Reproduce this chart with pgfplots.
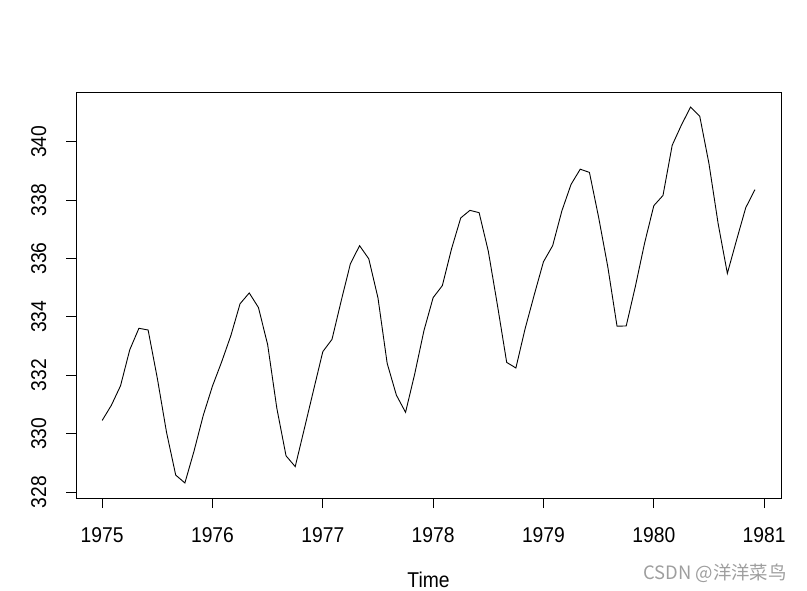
\documentclass[border=0pt]{standalone}
\usepackage{pgfplots}
\pgfplotsset{compat=1.18}
\usepackage{fontspec}
\setmainfont{Liberation Sans}[FakeStretch=0.9]
\newfontfamily\cjk{Noto Sans CJK SC}
\begin{document}
\begin{tikzpicture}[x=1bp,y=1bp]
\useasboundingbox (-76,-93) rectangle (731,498);
\begin{axis}[
  scale only axis, width=705bp, height=406bp,
  at={(0,0)}, anchor=south west,
  xmin=1974.763, xmax=1981.153, ymin=327.795, ymax=341.705,
  axis line style={black, line width=0.9bp},
  tick align=outside, major tick length=10bp,
  tick style={black, line width=0.9bp},
  xtick={1975,1976,1977,1978,1979,1980,1981},
  ytick={328,330,332,334,336,338,340},
  xtick pos=bottom, ytick pos=left,
  xticklabel style={font=\fontsize{21.5}{24}\selectfont, anchor=base},
  yticklabel style={font=\fontsize{21.5}{24}\selectfont, rotate=90, anchor=base},
  xticklabel shift=34bp,
  yticklabel shift=20bp,
  /pgf/number format/assume math mode=true,
  /pgf/number format/1000 sep={},
  xticklabel={\pgfmathprintnumber[fixed,precision=0,1000 sep={}]{\tick}},
  xlabel={Time},
  xlabel style={font=\fontsize{21.5}{24}\selectfont, at={(axis description cs:0.5,0)}, anchor=base, yshift=-89bp},
]
\addplot[black, line width=0.9bp] table[x=t,y=v] {
t v
1975.0000 330.45
1975.0833 330.97
1975.1667 331.64
1975.2500 332.87
1975.3333 333.61
1975.4167 333.55
1975.5000 331.90
1975.5833 330.05
1975.6667 328.58
1975.7500 328.31
1975.8333 329.41
1975.9167 330.63
1976.0000 331.63
1976.0833 332.46
1976.1667 333.36
1976.2500 334.45
1976.3333 334.82
1976.4167 334.32
1976.5000 333.05
1976.5833 330.87
1976.6667 329.24
1976.7500 328.87
1976.8333 330.18
1976.9167 331.50
1977.0000 332.81
1977.0833 333.23
1977.1667 334.55
1977.2500 335.82
1977.3333 336.44
1977.4167 335.99
1977.5000 334.65
1977.5833 332.41
1977.6667 331.32
1977.7500 330.73
1977.8333 332.05
1977.9167 333.53
1978.0000 334.66
1978.0833 335.07
1978.1667 336.33
1978.2500 337.39
1978.3333 337.65
1978.4167 337.57
1978.5000 336.25
1978.5833 334.39
1978.6667 332.44
1978.7500 332.25
1978.8333 333.59
1978.9167 334.76
1979.0000 335.89
1979.0833 336.44
1979.1667 337.63
1979.2500 338.54
1979.3333 339.06
1979.4167 338.95
1979.5000 337.41
1979.5833 335.71
1979.6667 333.68
1979.7500 333.69
1979.8333 335.05
1979.9167 336.53
1980.0000 337.81
1980.0833 338.16
1980.1667 339.88
1980.2500 340.57
1980.3333 341.19
1980.4167 340.87
1980.5000 339.25
1980.5833 337.19
1980.6667 335.49
1980.7500 336.63
1980.8333 337.74
1980.9167 338.36
};
\end{axis}
\node[anchor=base, text=black!38, font=\cjk\fontsize{18.5}{21}\selectfont] at (639,-82) {CSDN @洋洋菜鸟};
\end{tikzpicture}
\end{document}
